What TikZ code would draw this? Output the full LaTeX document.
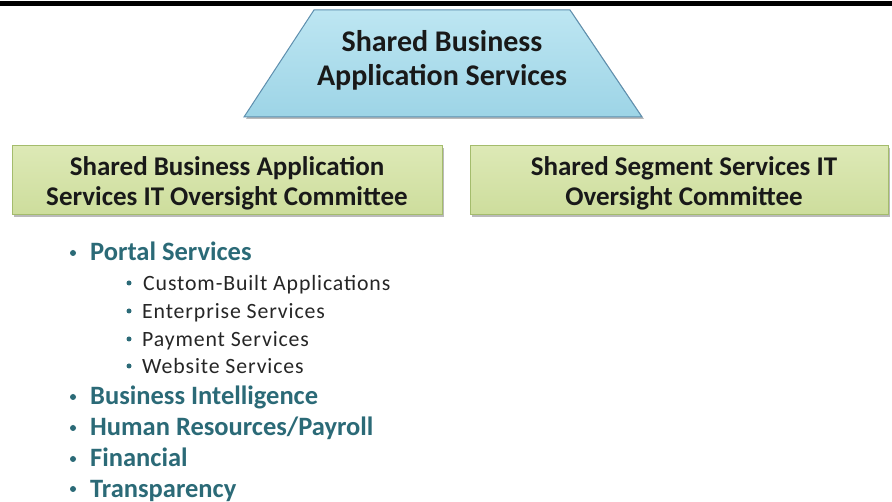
\documentclass[tikz,border=0pt]{standalone}
\usepackage{fontspec}
\setmainfont{Carlito}
\usetikzlibrary{shadows}
\definecolor{teal1}{HTML}{2B6A77}
\definecolor{blueA}{HTML}{BDE6F2}
\definecolor{blueB}{HTML}{9DD4E6}
\definecolor{blueE}{HTML}{5E8FAE}
\definecolor{greenA}{HTML}{DDE9B6}
\definecolor{greenB}{HTML}{CDDD9C}
\definecolor{greenE}{HTML}{A4BC6C}
\tikzset{
  boxshape/.style={draw=greenE, line width=1pt, top color=greenA, bottom color=greenB,
     drop shadow={shadow xshift=2pt, shadow yshift=-2pt, fill=black!45, opacity=0.6}},
  boxtext/.style={font=\bfseries\fontsize{27}{30}\selectfont, align=center, text=black!90},
  major/.style={anchor=base west, font=\bfseries\fontsize{26.5}{28}\selectfont, text=teal1, inner sep=0pt},
  minor/.style={anchor=base west, font=\addfontfeatures{LetterSpace=4}\fontsize{21.8}{24}\selectfont, text=black!85, inner sep=0pt},
  dotA/.style={circle, fill=teal1, inner sep=0pt, minimum size=6pt},
  dotB/.style={circle, fill=teal1, inner sep=0pt, minimum size=5pt},
}
\begin{document}
\begin{tikzpicture}[x=1pt,y=-1pt]
\useasboundingbox (0,0) rectangle (892,502);
\fill[white] (0,0) rectangle (892,502);
\fill[black] (0,1.5) rectangle (892,6);
% trapezoid
\path[draw=blueE, line width=1pt, top color=blueA, bottom color=blueB,
  drop shadow={shadow xshift=2pt, shadow yshift=-2pt, fill=black!45, opacity=0.6}]
  (314,10) -- (570,10) -- (642,117) -- (244,117) -- cycle;
\node[boxtext, font=\bfseries\fontsize{30}{34}\selectfont] (top) at (442,60) {Shared Business\\Application Services};
% boxes
\path[boxshape] (12,146) rectangle (442,215);
\node[boxtext] (left) at (227,183) {Shared Business Application\\Services IT Oversight Committee};
\path[boxshape] (470,146) rectangle (888,215);
\node[boxtext] (right) at (684,183) {Shared Segment Services IT\\Oversight Committee};
% list
\node[dotA] (b1) at (73,253) {};
\node[major] (m1) at (90,261) {Portal Services};
\node[dotB] (s1d) at (129,283) {};
\node[minor] (s1) at (143,291) {Custom-Built Applications};
\node[dotB] (s2d) at (129,311) {};
\node[minor] (s2) at (142,319) {Enterprise Services};
\node[dotB] (s3d) at (129,339) {};
\node[minor] (s3) at (142,347) {Payment Services};
\node[dotB] (s4d) at (129,366) {};
\node[minor] (s4) at (142,374) {Website Services};
\node[dotA] (b2) at (73,397) {};
\node[major] (m2) at (90,405) {Business Intelligence};
\node[dotA] (b3) at (73,428) {};
\node[major] (m3) at (90,436) {Human Resources/Payroll};
\node[dotA] (b4) at (73,459) {};
\node[major] (m4) at (90,467) {Financial};
\node[dotA] (b5) at (73,489) {};
\node[major] (m5) at (90,497) {Transparency};
\end{tikzpicture}
\end{document}
